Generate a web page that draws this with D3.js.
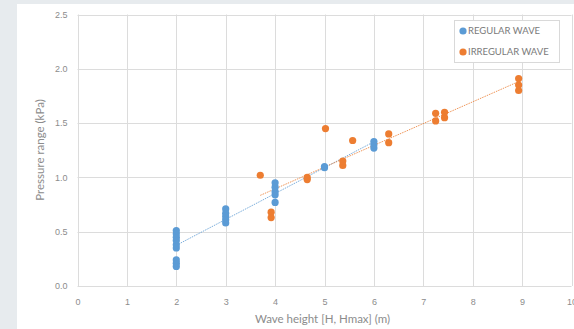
<!DOCTYPE html>
<html>
<head>
<meta charset="utf-8">
<script src="https://cdn.jsdelivr.net/npm/d3@7"></script>
<style>
  html, body { margin: 0; padding: 0; background: #e7ebee; }
  svg { display: block; font-family: Lato, "Open Sans", sans-serif; }
  .grid line { stroke: #dcdcdc; stroke-width: 1; }
  .tick text { fill: #8c8c8c; font-size: 9px; }
</style>
</head>
<body>
<svg id="chart" width="574" height="329"></svg>
<script>
// regular wave: wave height H (m) / pressure range (kPa)
const regularX = [2, 2, 2, 2, 2, 2, 2, 2, 2, 3, 3, 3, 3, 3, 4, 4, 4, 4, 4, 5, 5, 6, 6, 6];
const regularY = [0.18, 0.21, 0.24, 0.35, 0.38, 0.42, 0.45, 0.48, 0.51,
  0.58, 0.61, 0.64, 0.67, 0.71, 0.77, 0.84, 0.87, 0.91, 0.95, 1.09, 1.10, 1.27, 1.30, 1.33];

// irregular wave: Hmax (m) / pressure range (kPa)
const irregularX = [3.70, 3.92, 3.92, 4.65, 4.65, 5.02, 5.37, 5.37, 5.57, 6.30, 6.30,
  7.25, 7.25, 7.43, 7.43, 8.93, 8.93, 8.93];
const irregularY = [1.02, 0.68, 0.63, 0.98, 1.00, 1.45, 1.11, 1.15, 1.34, 1.32, 1.40,
  1.52, 1.59, 1.55, 1.60, 1.80, 1.85, 1.91];

const xTicks = [0, 1, 2, 3, 4, 5, 6, 7, 8, 9, 10];
const yTicks = [0, 0.5, 1.0, 1.5, 2.0, 2.5];

const seriesNames = ['REGULAR WAVE', 'IRREGULAR WAVE'];
const seriesColors = ['#5b9bd5', '#ed7d31'];

const series = [
  {name: seriesNames[0], color: seriesColors[0], points: regularX.map((x, i) => ({x, y: regularY[i]}))},
  {name: seriesNames[1], color: seriesColors[1], points: irregularX.map((x, i) => ({x, y: irregularY[i]}))}
];

// least squares trendline, drawn over the data's x range
function trend(points) {
  const mx = d3.mean(points, p => p.x), my = d3.mean(points, p => p.y);
  const sxy = d3.sum(points, p => (p.x - mx) * (p.y - my));
  const sxx = d3.sum(points, p => (p.x - mx) * (p.x - mx));
  const slope = sxy / sxx, icpt = my - slope * mx;
  const [x0, x1] = d3.extent(points, p => p.x);
  return [{x: x0, y: icpt + slope * x0}, {x: x1, y: icpt + slope * x1}];
}

const svg = d3.select('#chart');

// white chart area
svg.append('rect')
  .attr('x', 17).attr('y', 4)
  .attr('width', 574 - 17).attr('height', 329 - 4)
  .attr('fill', '#ffffff');

const x = d3.scaleLinear().domain([0, 10]).range([77.5, 571.5]);
const y = d3.scaleLinear().domain([0, 2.5]).range([286, 14.5]);

// gridlines
svg.append('g').attr('class', 'grid')
  .selectAll('line').data(xTicks).enter().append('line')
  .attr('x1', d => Math.round(x(d)) + 0.5).attr('x2', d => Math.round(x(d)) + 0.5)
  .attr('y1', y(2.5)).attr('y2', y(0));
svg.append('g').attr('class', 'grid')
  .selectAll('line').data(yTicks).enter().append('line')
  .attr('x1', x(0)).attr('x2', x(10))
  .attr('y1', d => Math.round(y(d)) + 0.5).attr('y2', d => Math.round(y(d)) + 0.5);

// axes (labels only)
const xAxis = d3.axisBottom(x).tickValues(xTicks).tickSize(0).tickPadding(13).tickFormat(d3.format('d'));
const yAxis = d3.axisLeft(y).tickValues(yTicks).tickSize(0).tickPadding(10).tickFormat(d3.format('.1f'));

svg.append('g')
  .attr('transform', `translate(0,${y(0)})`)
  .call(xAxis)
  .call(g => g.select('.domain').remove());
svg.append('g')
  .attr('transform', `translate(${x(0)},0)`)
  .call(yAxis)
  .call(g => g.select('.domain').remove());

// axis titles
svg.append('text')
  .attr('x', (x(0) + x(10)) / 2 - 2)
  .attr('y', 323)
  .attr('text-anchor', 'middle')
  .attr('fill', '#8c8c8c')
  .style('font-size', '11.5px')
  .text('Wave height [H, Hmax] (m)');

svg.append('text')
  .attr('transform', `translate(44,150) rotate(-90)`)
  .attr('text-anchor', 'middle')
  .attr('fill', '#8c8c8c')
  .style('font-size', '11.5px')
  .text('Pressure range (kPa)');

// trendlines
svg.append('g').selectAll('line').data(series).enter().append('line')
  .attr('x1', d => x(trend(d.points)[0].x))
  .attr('y1', d => y(trend(d.points)[0].y))
  .attr('x2', d => x(trend(d.points)[1].x))
  .attr('y2', d => y(trend(d.points)[1].y))
  .attr('stroke', d => d.color)
  .attr('stroke-width', 1)
  .attr('stroke-dasharray', '1.5,1')
  .attr('opacity', 0.8);

// markers
series.forEach(s => {
  svg.append('g').selectAll('circle').data(s.points).enter().append('circle')
    .attr('cx', d => x(d.x))
    .attr('cy', d => y(d.y))
    .attr('r', 3.6)
    .attr('fill', s.color);
});

// legend
const legend = svg.append('g').attr('transform', 'translate(454,20)');
legend.append('rect')
  .attr('x', 0.5).attr('y', 0.5)
  .attr('width', 105).attr('height', 42)
  .attr('fill', '#ffffff')
  .attr('stroke', '#d9d9d9');
const items = legend.selectAll('g.item').data(series).enter().append('g')
  .attr('class', 'item')
  .attr('transform', (d, i) => `translate(9,${11 + i * 21})`);
items.append('circle').attr('r', 3.6).attr('fill', d => d.color);
items.append('text')
  .attr('x', 5).attr('dy', '0.35em')
  .attr('fill', '#7a7a7a')
  .style('font-size', '9.5px')
  .text(d => d.name);
</script>
</body>
</html>
